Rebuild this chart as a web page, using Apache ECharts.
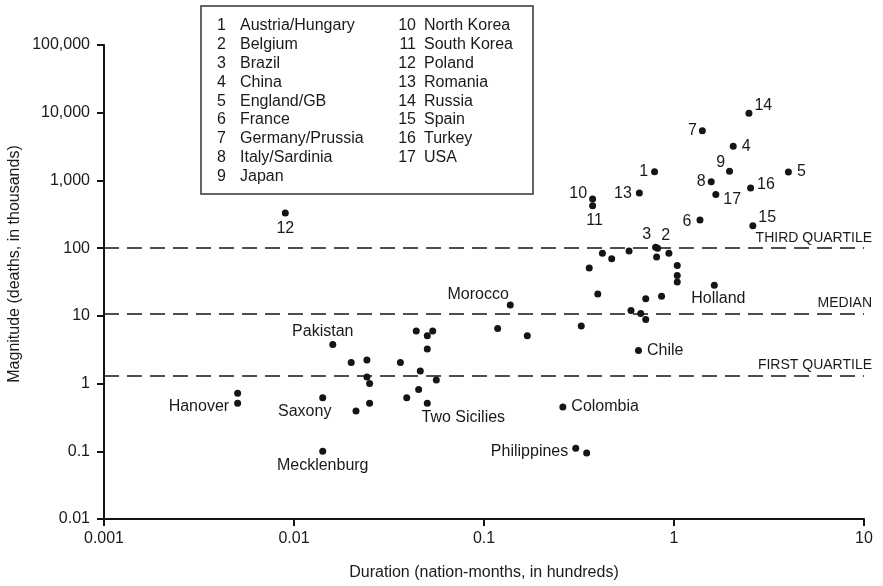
<!DOCTYPE html>
<html>
<head>
<meta charset="utf-8">
<script src="https://cdn.jsdelivr.net/npm/echarts@6/dist/echarts.min.js"></script>
<style>
  html, body { margin: 0; padding: 0; background: #ffffff; }
  #chart { width: 883px; height: 586px; }
</style>
</head>
<body>
<div id="chart"></div>
<script>
// Wars: duration (nation-months, in hundreds) vs magnitude (deaths, in thousands)
const durations = [
  0.79, 0.82, 0.80, 2.05, 4.0, 1.37, 1.41, 1.57, 1.96, 0.373, 0.373, 0.009, 0.657, 2.48, 2.60, 2.53, 1.66,
  0.42, 0.47, 0.58, 0.81, 0.94, 0.358, 1.04, 1.04, 1.04, 1.63,
  0.397, 0.71, 0.86, 0.594, 0.668, 0.71, 0.325, 0.65,
  0.1375, 0.118, 0.169,
  0.016, 0.044, 0.0537, 0.0503, 0.0503, 0.020, 0.0242, 0.0363, 0.0462, 0.0242, 0.025, 0.0561,
  0.0453, 0.0392, 0.0503, 0.025, 0.0212, 0.01416, 0.00505, 0.00505, 0.01416,
  0.26, 0.304, 0.347
];
const magnitudes = [
  1340, 100, 103, 3200, 1330, 261, 5430, 953, 1370, 531, 423, 330, 650, 9800, 215, 771, 622,
  84, 70, 91, 74, 84, 51, 55.5, 39.5, 31.6, 28.2,
  21.1, 17.9, 19.4, 12.0, 10.8, 8.8, 7.1, 3.09,
  14.5, 6.5, 5.08,
  3.79, 6.0, 6.0, 5.08, 3.23, 2.04, 2.22, 2.04, 1.53, 1.25, 1.0, 1.13,
  0.82, 0.62, 0.51, 0.51, 0.395, 0.62, 0.72, 0.51, 0.1,
  0.45, 0.111, 0.094
];
const pointNames = [
  '1', '2', '3', '4', '5', '6', '7', '8', '9', '10', '11', '12', '13', '14', '15', '16', '17',
  '', '', '', '', '', '', '', '', '', 'Holland',
  '', '', '', '', '', '', '', 'Chile',
  'Morocco', '', '',
  'Pakistan', '', '', '', '', '', '', '', '', '', '', '',
  '', '', 'Two Sicilies', '', '', 'Saxony', '', 'Hanover', 'Mecklenburg',
  'Colombia', 'Philippines', ''
];

const legendNumbers = ['1','2','3','4','5','6','7','8','9','10','11','12','13','14','15','16','17'];
const legendCountries = [
  'Austria/Hungary', 'Belgium', 'Brazil', 'China', 'England/GB', 'France', 'Germany/Prussia',
  'Italy/Sardinia', 'Japan', 'North Korea', 'South Korea', 'Poland', 'Romania', 'Russia',
  'Spain', 'Turkey', 'USA'
];

const quartileValues = [100, 10.8, 1.31];
const quartileNames = ['THIRD QUARTILE', 'MEDIAN', 'FIRST QUARTILE'];

const xTickLabels = ['0.001', '0.01', '0.1', '1', '10'];
const yTickLabels = ['0.01', '0.1', '1', '10', '100', '1,000', '10,000', '100,000'];

const FONT = "'Liberation Sans', Arial, Helvetica, sans-serif";
const INK = '#151515';
const TEXT = '#1a1a1a';

// where each point label sits relative to its dot
const labelPlacement = {
  '1': { position: 'left', distance: 3 },
  '2': { position: 'top', distance: 1, offset: [8, 0] },
  '3': { position: 'top', distance: 1, offset: [-9, 0] },
  '4': { position: 'right', distance: 5 },
  '5': { position: 'right', distance: 5 },
  '6': { position: 'left', distance: 5, offset: [0, 2] },
  '7': { position: 'left', distance: 2 },
  '8': { position: 'left', distance: 2 },
  '9': { position: 'left', distance: 1, offset: [0, -9] },
  '10': { position: 'left', distance: 2, offset: [0, -5] },
  '11': { position: 'bottom', distance: 3, offset: [2, 0] },
  '12': { position: 'bottom', distance: 4 },
  '13': { position: 'left', distance: 4 },
  '14': { position: 'right', distance: 2, offset: [0, -8] },
  '15': { position: 'right', distance: 2, offset: [0, -8] },
  '16': { position: 'right', distance: 3, offset: [0, -3] },
  '17': { position: 'right', distance: 4, offset: [0, 5] },
  'Holland': { position: 'bottom', distance: 2, offset: [4, 0] },
  'Chile': { position: 'right', distance: 5 },
  'Morocco': { position: 'left', distance: 0, offset: [2, -10] },
  'Pakistan': { position: 'top', distance: 1, offset: [-10, 0] },
  'Two Sicilies': { position: 'bottom', distance: 3, offset: [36, 0] },
  'Saxony': { position: 'bottom', distance: 2, offset: [-18, 0] },
  'Hanover': { position: 'left', distance: 2, offset: [-3, 3] },
  'Mecklenburg': { position: 'bottom', distance: 3 },
  'Colombia': { position: 'right', distance: 5 },
  'Philippines': { position: 'left', distance: 4, offset: [0, 3] }
};

const points = durations.map((d, i) => {
  const name = pointNames[i];
  const item = { value: [d, magnitudes[i]], name: name };
  if (name) {
    const p = labelPlacement[name] || { position: 'right' };
    item.label = Object.assign({
      show: true, formatter: name, color: TEXT, fontSize: 16, fontFamily: FONT, opacity: 1
    }, p);
  }
  return item;
});

function tickText(labels, base, v) {
  const k = Math.round(Math.log10(v));
  return labels[k + base] || '';
}

// legend box listing the numbered countries
const legendGraphics = [{
  type: 'rect',
  shape: { x: 201, y: 6, width: 332, height: 188 },
  style: { fill: '#ffffff', stroke: '#333333', lineWidth: 1.5 },
  z: 10
}];
legendNumbers.forEach((num, i) => {
  const col = i < 9 ? 0 : 1;
  const row = col === 0 ? i : i - 9;
  const y = 25.5 + row * 18.9;
  legendGraphics.push({
    type: 'text', z: 11,
    x: col === 0 ? 226 : 416, y: y,
    style: { text: num, font: '16px ' + FONT, fill: TEXT, align: 'right', verticalAlign: 'middle' }
  });
  legendGraphics.push({
    type: 'text', z: 11,
    x: col === 0 ? 240 : 424, y: y,
    style: { text: legendCountries[i], font: '16px ' + FONT, fill: TEXT, align: 'left', verticalAlign: 'middle' }
  });
});
legendGraphics.push({
  type: 'text', z: 11,
  x: 15, y: 264, rotation: Math.PI / 2,
  style: {
    text: 'Magnitude (deaths, in thousands)', font: '16px ' + FONT, fill: TEXT,
    align: 'center', verticalAlign: 'middle'
  }
});

const chart = echarts.init(document.getElementById('chart'), null, { renderer: 'canvas' });
chart.setOption({
  animation: false,
  backgroundColor: '#ffffff',
  textStyle: { fontFamily: FONT },
  grid: { left: 104, right: 19, top: 45, bottom: 65, containLabel: false },
  xAxis: {
    type: 'log', logBase: 10, min: 0.001, max: 10,
    name: 'Duration (nation-months, in hundreds)',
    nameLocation: 'middle', nameGap: 46,
    nameTextStyle: { fontSize: 16, color: TEXT, fontFamily: FONT },
    axisLine: { show: true, lineStyle: { color: INK, width: 2 } },
    axisTick: { show: true, inside: false, length: 7, lineStyle: { color: INK, width: 2 } },
    minorTick: { show: false },
    splitLine: { show: false },
    axisLabel: {
      fontSize: 16, color: TEXT, fontFamily: FONT, margin: 12,
      formatter: v => tickText(xTickLabels, 3, v)
    }
  },
  yAxis: {
    type: 'log', logBase: 10, min: 0.01, max: 100000,
    axisLine: { show: true, lineStyle: { color: INK, width: 2 } },
    axisTick: { show: true, inside: false, length: 7, lineStyle: { color: INK, width: 2 } },
    minorTick: { show: false },
    splitLine: { show: false },
    axisLabel: {
      fontSize: 16, color: TEXT, fontFamily: FONT, margin: 14,
      formatter: v => tickText(yTickLabels, 2, v)
    }
  },
  graphic: legendGraphics,
  series: [{
    type: 'scatter',
    symbol: 'circle',
    symbolSize: 7,
    itemStyle: { color: INK, opacity: 1 },
    label: { show: false, fontSize: 16, color: TEXT, fontFamily: FONT },
    emphasis: { disabled: true },
    data: points,
    markLine: {
      silent: true,
      symbol: ['none', 'none'],
      lineStyle: { color: INK, width: 1.5, type: [15, 8], opacity: 1 },
      label: {
        show: true, position: 'insideEndTop', formatter: '{b}',
        fontSize: 14, color: TEXT, fontFamily: FONT, distance: [-8, 3]
      },
      data: quartileValues.map((v, i) => ({ yAxis: v, name: quartileNames[i] }))
    }
  }]
});
</script>
</body>
</html>
